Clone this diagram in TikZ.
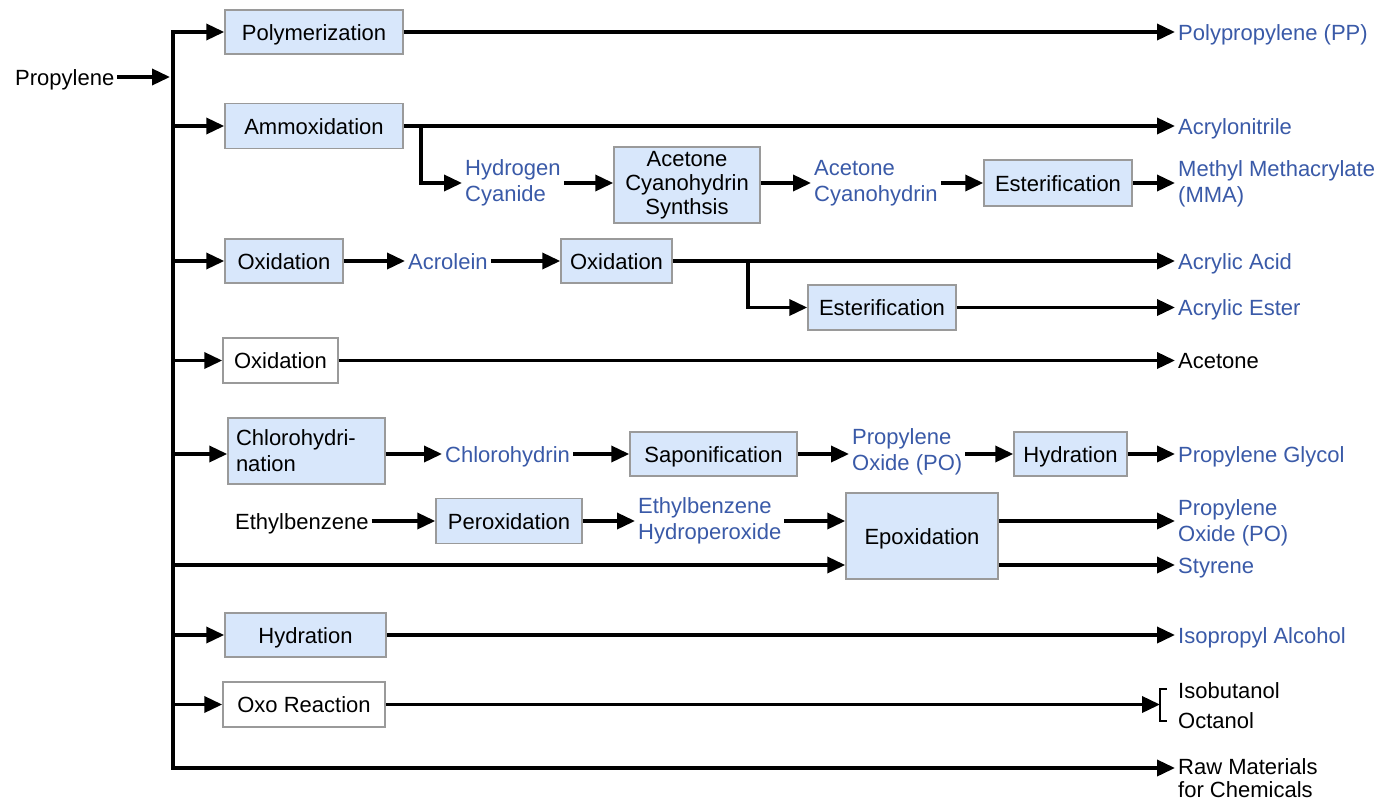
\documentclass[tikz,border=0pt]{standalone}
\usepackage{fontspec}
\setmainfont{Liberation Sans}
\usetikzlibrary{arrows.meta}

\definecolor{prodblue}{HTML}{3A5AA8}
\definecolor{boxfill}{HTML}{D8E7FB}
\definecolor{boxline}{HTML}{9A9A9A}

\newcommand\chemfont{\fontsize{22}{26}\selectfont}

\tikzset{
  proc/.style={draw=boxline, line width=1.5pt, fill=boxfill, inner sep=0pt,
               align=center, font=\chemfont, text height=16pt, text depth=0pt},
  plainproc/.style={proc, fill=white},
  multi/.style={text height=, text depth=},
  lbl/.style={anchor=west, inner sep=3pt, align=left, font=\chemfont},
  one/.style={text height=16pt, text depth=0pt},
  prod/.style={lbl, text=prodblue},
  ln/.style={line width=3.6pt},
  tip/.tip={Triangle[length=18pt,width=16pt]},
  arr/.style={ln, -tip},
}

\begin{document}
\begin{tikzpicture}[x=1pt, y=-1pt]
\useasboundingbox[fill=white] (0,0) rectangle (1383,803);

% feed and main distribution line
\node[lbl, one] (prop) at (12,77) {Propylene};
\coordinate (trunk) at (173,0);
\coordinate (rawin) at (1175,768);

% polymerization
\node[proc, minimum width=178, minimum height=44] (poly) at (314,32) {Polymerization};
\node[prod, one] (pp) at (1175,32) {Polypropylene (PP)};

% ammoxidation and the MMA route
\node[proc, minimum width=178, minimum height=45] (amm) at (314,126) {Ammoxidation};
\node[prod, one] (acn) at (1175,126) {Acrylonitrile};
\coordinate (j1) at (421,0);
\node[prod] (hcn) at (462,183) {Hydrogen\\Cyanide};
\node[proc, multi, font=\fontsize{22}{24}\selectfont, minimum width=146, minimum height=76] (acs) at (687,185) {Acetone\\Cyanohydrin\\Synthsis};
\node[prod] (ach) at (811,183) {Acetone\\Cyanohydrin};
\node[proc, minimum width=148, minimum height=46] (est1) at (1058,183) {Esterification};
\node[prod] (mma) at (1175,184) {Methyl Methacrylate\\(MMA)};

% oxidation to acrylic acid / ester
\node[proc, minimum width=118, minimum height=44] (ox1) at (284,261) {Oxidation};
\node[prod, one] (acr) at (405,261) {Acrolein};
\node[proc, minimum width=111, minimum height=44] (ox2) at (616.5,261) {Oxidation};
\node[prod, one] (aa) at (1175,261) {Acrylic Acid};
\coordinate (j2) at (748,0);
\node[proc, minimum width=148, minimum height=45] (est2) at (882,307.5) {Esterification};
\node[prod, one] (ae) at (1175,307.5) {Acrylic Ester};

% oxidation to acetone
\node[plainproc, minimum width=115, minimum height=45] (ox3) at (280.5,360.5) {Oxidation};
\node[lbl, one] (act) at (1175,360.5) {Acetone};

% chlorohydrin route
\node[proc, multi, align=left, text width=141, minimum width=157, minimum height=66] (chl) at (306.5,451) {Chlorohydri-\\nation};
\node[prod, one] (chy) at (442,454) {Chlorohydrin};
\node[proc, minimum width=167, minimum height=44] (sap) at (713.5,454) {Saponification};
\node[prod] (po1) at (849,452) {Propylene\\Oxide (PO)};
\node[proc, minimum width=113, minimum height=44] (hyd1) at (1070.5,454) {Hydration};
\node[prod, one] (pg) at (1175,454) {Propylene Glycol};

% ethylbenzene hydroperoxide route
\node[lbl, one] (eb) at (232,521) {Ethylbenzene};
\node[proc, minimum width=146, minimum height=45] (perox) at (509,521) {Peroxidation};
\node[prod] (ebh) at (635,521) {Ethylbenzene\\Hydroperoxide};
\node[proc, minimum width=152, minimum height=86] (epox) at (922,536) {Epoxidation};
\node[prod] (po2) at (1175,523) {Propylene\\Oxide (PO)};
\node[prod, one] (sty) at (1175,565) {Styrene};

% hydration
\node[proc, minimum width=161, minimum height=44] (hyd2) at (305.5,635) {Hydration};
\node[prod, one] (ipa) at (1175,635) {Isopropyl Alcohol};

% oxo reaction
\node[plainproc, minimum width=162, minimum height=45] (oxo) at (304,704.5) {Oxo Reaction};
\coordinate (brk) at (1160,704.5);
\coordinate (brktop) at (1167,689);
\coordinate (brkbot) at (1167,721);
\node[lbl, one] (iso) at (1175,690) {Isobutanol};
\node[lbl, one] (oct) at (1175,720) {Octanol};

% raw materials
\node[lbl, anchor=north west, font=\fontsize{22}{23}\selectfont] (raw) at (1175,755) {Raw Materials\\for Chemicals};

% ---- connectors ----
\draw[arr, shorten >=3pt] (prop.east) -- (trunk |- prop.east);
\draw[ln, tip-tip] (poly.west) -- (trunk |- poly.west) -- (trunk |- rawin) -- (rawin);

\draw[arr] (poly.east) -- (pp.west);

\draw[arr] (trunk |- amm.west) -- (amm.west);
\draw[arr] (amm.east) -- (acn.west);
\draw[arr] (j1 |- amm.east) |- (hcn.west);
\draw[arr] (hcn.east) -- (acs.west |- hcn.east);
\draw[arr] (acs.east |- ach.west) -- (ach.west);
\draw[arr] (ach.east) -- (est1.west);
\draw[arr] (est1.east) -- (mma.west |- est1.east);

\draw[arr] (trunk |- ox1.west) -- (ox1.west);
\draw[arr] (ox1.east) -- (acr.west);
\draw[arr] (acr.east) -- (ox2.west);
\draw[arr] (ox2.east) -- (aa.west);
\draw[arr] (j2 |- ox2.east) |- (est2.west);
\draw[arr] (est2.east) -- (ae.west);

\draw[arr] (trunk |- ox3.west) -- (ox3.west);
\draw[arr] (ox3.east) -- (act.west);

\draw[arr] (trunk |- chy.west) -- (chl.west |- chy.west);
\draw[arr] (chl.east |- chy.west) -- (chy.west);
\draw[arr] (chy.east) -- (sap.west);
\draw[arr] (sap.east) -- (po1.west |- sap.east);
\draw[arr] (po1.east |- hyd1.west) -- (hyd1.west);
\draw[arr] (hyd1.east) -- (pg.west);

\draw[arr] (eb.east) -- (perox.west);
\draw[arr] (perox.east) -- (ebh.west);
\draw[arr] (ebh.east) -- (epox.west |- ebh.east);
\draw[arr] (epox.east |- ebh.east) -- (po2.west |- ebh.east);
\draw[arr] (trunk |- sty.west) -- (epox.west |- sty.west);
\draw[arr] (epox.east |- sty.west) -- (sty.west);

\draw[arr] (trunk |- hyd2.west) -- (hyd2.west);
\draw[arr] (hyd2.east) -- (ipa.west);

\draw[arr] (trunk |- oxo.west) -- (oxo.west);
\draw[arr] (oxo.east) -- (brk);
\draw[line width=1.6pt] (brktop) -- (brk |- brktop) -- (brk |- brkbot) -- (brkbot);
\end{tikzpicture}
\end{document}
